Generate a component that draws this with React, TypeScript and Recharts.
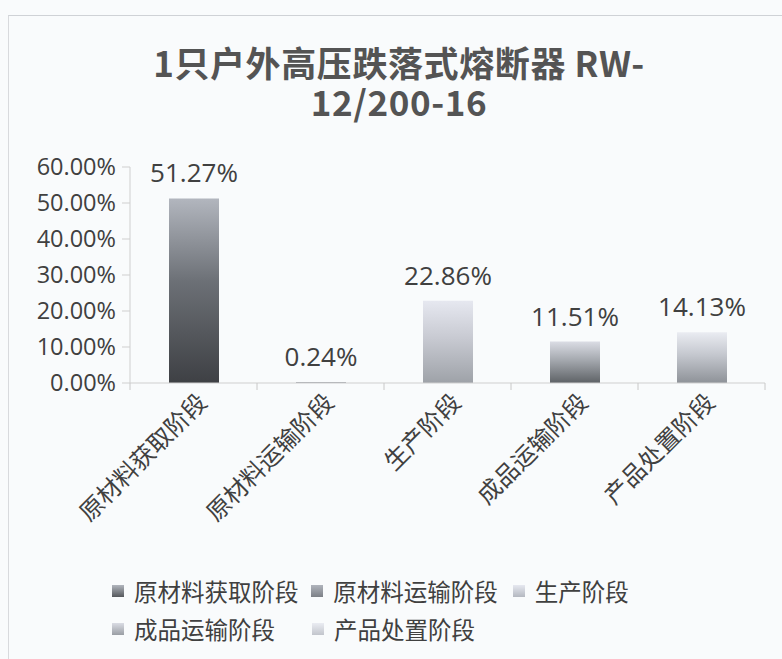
import React from 'react';
import { BarChart, Bar, XAxis, YAxis, Cell, LabelList } from 'recharts';

const categories = ['原材料获取阶段', '原材料运输阶段', '生产阶段', '成品运输阶段', '产品处置阶段'];
const values = [51.27, 0.24, 22.86, 11.51, 14.13];
const yTicks = [0, 10, 20, 30, 40, 50, 60];
const titleLines = ['1只户外高压跌落式熔断器 RW-', '12/200-16'];

const gradTop = ['#b2b6be', '#b0b4bc', '#e6e8f0', '#dadce4', '#eaecf2'];
const gradMid = ['#6c7076', '#80848a', '#c8cad2', '#a4a8ae', '#c4c7ce'];
const gradBottom = ['#3e4044', '#5a5e62', '#9ea2a8', '#5e6266', '#8e9298'];
const legendColor = ['#55585c', '#7c8086', '#b4b8c0', '#9a9ea4', '#c2c5cc'];

const data = categories.map((name, i) => ({ name, value: values[i] }));

const FONT = '"Open Sans", "Noto Sans CJK SC", sans-serif';
const CJK = '"Noto Sans CJK SC", "Open Sans", sans-serif';
const TEXT = '#404040';

const XTick = (props: any) => {
  const { x, y, payload, index, visibleTicksCount } = props;
  const off = payload && payload.offset != null ? payload.offset : 63.5;
  const axisY = y - 8;
  const ax = x + 9;
  const ay = axisY + 15;
  return (
    <g>
      <line x1={x - off} x2={x - off} y1={axisY} y2={axisY + 7} stroke="#c8c8c8" />
      {index === visibleTicksCount - 1 && (
        <line x1={x + off} x2={x + off} y1={axisY} y2={axisY + 7} stroke="#c8c8c8" />
      )}
      <text
        x={ax}
        y={ay}
        transform={`rotate(-45 ${ax} ${ay})`}
        textAnchor="end"
        dy="0.35em"
        fontSize={24}
        fontFamily={CJK}
        fill={TEXT}
      >
        {payload.value}
      </text>
    </g>
  );
};

export default function App() {
  return (
    <div style={{ position: 'absolute', left: 0, top: 0, width: 782, height: 659, background: '#f9fbfc', overflow: 'hidden' }}>
      <div style={{ position: 'absolute', left: 8, top: 15, width: 800, height: 660, borderTop: '1px solid #cfd2d6', borderLeft: '1px solid #d8dadd' }} />
      <div
        style={{
          position: 'absolute', left: 8, top: 42, width: 782, textAlign: 'center',
          fontFamily: CJK, fontWeight: 700, fontSize: 35, lineHeight: '39px', letterSpacing: 0.6, color: '#545454',
        }}
      >
        {titleLines[0]}
        <br />
        {titleLines[1]}
      </div>
      <div style={{ position: 'absolute', left: 0, top: 0 }}>
        <BarChart width={782} height={659} data={data} margin={{ top: 167, right: 17, bottom: 126, left: 10 }}>
          <defs>
            {categories.map((c, i) => (
              <linearGradient key={c} id={`g${i}`} x1="0" y1="0" x2="0" y2="1">
                <stop offset="0%" stopColor={gradTop[i]} />
                <stop offset="45%" stopColor={gradMid[i]} />
                <stop offset="100%" stopColor={gradBottom[i]} />
              </linearGradient>
            ))}
          </defs>
          <XAxis
            dataKey="name"
            height={150}
            axisLine={{ stroke: '#cfcfcf' }}
            tickLine={false}
            tick={<XTick />}
            interval={0}
            tickSize={6}
            tickMargin={2}
          />
          <YAxis
            width={120}
            domain={[0, 60]}
            ticks={yTicks}
            interval={0}
            axisLine={{ stroke: '#cfcfcf' }}
            tickLine={{ stroke: '#cfcfcf' }}
            tickSize={8}
            tickMargin={6}
            tickFormatter={(v: number) => `${v.toFixed(2)}%`}
            tick={{ fontSize: 23.5, fontFamily: FONT, fill: TEXT }}
          />
          <Bar dataKey="value" barSize={50} isAnimationActive={false}>
            {data.map((d, i) => (
              <Cell key={d.name} fill={`url(#g${i})`} />
            ))}
            <LabelList
              dataKey="value"
              position="top"
              offset={16}
              formatter={(v: any) => `${Number(v).toFixed(2)}%`}
              style={{ fontSize: 26, fontFamily: FONT, fill: TEXT }}
            />
          </Bar>
        </BarChart>
      </div>
      <div style={{ position: 'absolute', left: 108, top: 572, width: 600, fontFamily: CJK, fontSize: 23.5, color: TEXT }}>
        {[[0, 1, 2], [3, 4]].map((row, r) => (
          <div key={r} style={{ display: 'flex', height: 38, alignItems: 'center' }}>
            {row.map((i, k) => (
              <div key={i} style={{ display: 'flex', alignItems: 'center', width: k === 0 ? 200 : k === 1 ? 202 : 200 }}>
                <span
                  style={{
                    display: 'inline-block', width: 12, height: 12, marginLeft: 4, marginRight: 10,
                    background: `linear-gradient(${gradTop[i]}, ${legendColor[i]})`,
                  }}
                />
                <span>{categories[i]}</span>
              </div>
            ))}
          </div>
        ))}
      </div>
    </div>
  );
}
